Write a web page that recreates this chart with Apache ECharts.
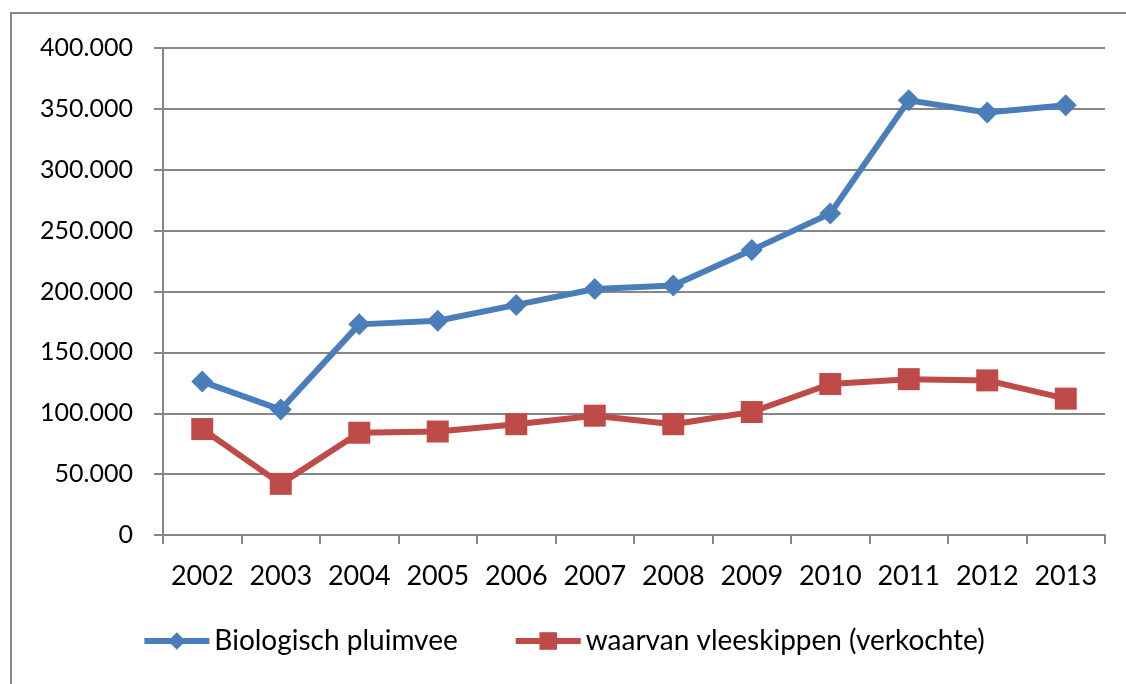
<!DOCTYPE html>
<html>
<head>
<meta charset="utf-8">
<script src="https://cdn.jsdelivr.net/npm/echarts@6/dist/echarts.min.js"></script>
<style>
  html, body { margin: 0; padding: 0; background: #fff; }
  #chart { width: 1126px; height: 684px; }
</style>
</head>
<body>
<div id="chart"></div>
<script>
// jaren en aantallen
const years = ['2002', '2003', '2004', '2005', '2006', '2007', '2008', '2009', '2010', '2011', '2012', '2013'];
const pluimvee = [126000, 103000, 173000, 176000, 189000, 202000, 205000, 234000, 264000, 357000, 347000, 353000];
const vleeskippen = [87000, 42000, 84000, 85000, 91000, 98000, 91000, 101000, 124000, 128000, 127000, 112000];
const seriesNames = ['Biologisch pluimvee', 'waarvan vleeskippen (verkochte)'];

const fontFam = 'Lato, "Open Sans", sans-serif';

function fmt(v) {
  return String(v).replace(/\B(?=(\d{3})+(?!\d))/g, '.');
}

const chart = echarts.init(document.getElementById('chart'));
const option = {
  backgroundColor: '#fff',
  animation: false,
  color: ['#4A7EBB', '#BE4B48'],
  graphic: [{
    type: 'rect',
    shape: { x: 11, y: 13, width: 1130, height: 690 },
    style: { fill: 'none', stroke: '#888', lineWidth: 2 }
  }],
  grid: { left: 163, right: 21, top: 48, bottom: 149 },
  legend: {
    bottom: 24,
    left: 'center',
    itemGap: 55,
    itemWidth: 65,
    itemHeight: 22,
    lineStyle: { width: 6 },
    textStyle: { fontFamily: fontFam, fontSize: 28, color: '#000' },
    data: seriesNames
  },
  xAxis: {
    type: 'category',
    data: years,
    boundaryGap: true,
    axisLine: { lineStyle: { color: '#868686', width: 2 } },
    axisTick: { show: true, interval: 0, length: 9, lineStyle: { color: '#868686', width: 2 } },
    axisLabel: { interval: 0, hideOverlap: false, fontFamily: fontFam, fontSize: 27, color: '#000', margin: 28 }
  },
  yAxis: {
    type: 'value',
    min: 0,
    max: 400000,
    interval: 50000,
    axisLine: { show: true, lineStyle: { color: '#868686', width: 2 } },
    axisTick: { show: true, length: 9, lineStyle: { color: '#868686', width: 2 } },
    splitLine: { lineStyle: { color: '#868686', width: 2 } },
    axisLabel: { fontFamily: fontFam, fontSize: 25, color: '#000', margin: 30, formatter: fmt }
  },
  series: [{
    name: seriesNames[0],
    type: 'line',
    data: pluimvee,
    symbol: 'diamond',
    symbolSize: 22,
    lineStyle: { width: 6 },
    itemStyle: { color: '#4A7EBB' }
  }, {
    name: seriesNames[1],
    type: 'line',
    data: vleeskippen,
    symbol: 'rect',
    symbolSize: 22,
    lineStyle: { width: 6 },
    itemStyle: { color: '#BE4B48' }
  }]
};
option && chart.setOption(option);
</script>
</body>
</html>
